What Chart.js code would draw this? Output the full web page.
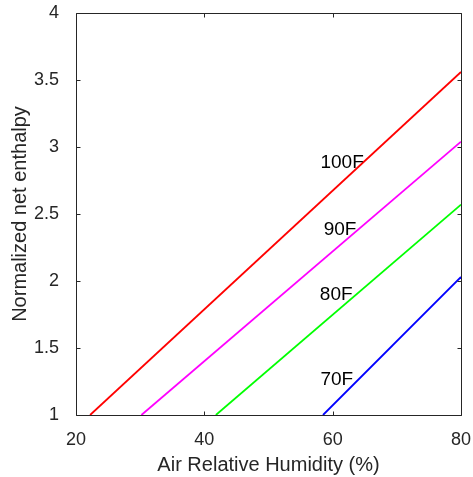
<!DOCTYPE html>
<html>
<head>
<meta charset="utf-8">
<script src="https://cdn.jsdelivr.net/npm/chart.js@4/dist/chart.umd.min.js"></script>
<style>
  html, body { margin: 0; padding: 0; background: #ffffff; }
  #wrap { width: 473px; height: 477px; position: relative; }
</style>
</head>
<body>
<div id="wrap"><canvas id="c"></canvas></div>
<script>
// ---- data ----
const seriesNames = ['100F', '90F', '80F', '70F'];
const seriesColors = ['#ff0000', '#ff00ff', '#00ff00', '#0000ff'];
const humidity100 = [22.2, 80];
const enthalpy100 = [1.0, 3.56];
const humidity90 = [30.2, 80];
const enthalpy90 = [1.0, 3.04];
const humidity80 = [41.8, 80];
const enthalpy80 = [1.0, 2.57];
const humidity70 = [58.5, 80];
const enthalpy70 = [1.0, 2.03];
// text annotation anchors (data coordinates)
const labelX = [58.1, 58.6, 58.0, 58.1];
const labelY = [2.88, 2.385, 1.896, 1.265];
const xTicks = [20, 40, 60, 80];
const yTicks = [1, 1.5, 2, 2.5, 3, 3.5, 4];
const yTickLabels = ['1', '1.5', '2', '2.5', '3', '3.5', '4'];
const xTickLabels = ['20', '40', '60', '80'];

const hs = [humidity100, humidity90, humidity80, humidity70];
const es = [enthalpy100, enthalpy90, enthalpy80, enthalpy70];

const datasets = seriesNames.map((n, i) => ({
  label: n,
  data: hs[i].map((x, k) => ({ x: x, y: es[i][k] })),
  borderColor: seriesColors[i],
  backgroundColor: seriesColors[i],
  borderWidth: 1.8,
  pointRadius: 0,
  fill: false,
  tension: 0
}));

const frameColor = '#262626';
const fontFam = '"Liberation Sans", Arial, Helvetica, sans-serif';

const framePlugin = {
  id: 'frame',
  afterDatasetsDraw(chart) {
    const ctx = chart.ctx;
    const a = chart.chartArea;
    const xs = chart.scales.x, ys = chart.scales.y;
    ctx.save();
    ctx.strokeStyle = frameColor;
    ctx.lineWidth = 1;
    const L = Math.round(a.left) + 0.5, R = Math.round(a.right) + 0.5;
    const T = Math.round(a.top) + 0.5, B = Math.round(a.bottom) + 0.5;
    ctx.beginPath();
    ctx.rect(L, T, R - L, B - T);
    const tl = 4;
    xTicks.forEach(v => {
      const px = Math.round(xs.getPixelForValue(v)) + 0.5;
      ctx.moveTo(px, B); ctx.lineTo(px, B - tl);
      ctx.moveTo(px, T); ctx.lineTo(px, T + tl);
    });
    yTicks.forEach(v => {
      const py = Math.round(ys.getPixelForValue(v)) + 0.5;
      ctx.moveTo(L, py); ctx.lineTo(L + tl, py);
      ctx.moveTo(R, py); ctx.lineTo(R - tl, py);
    });
    ctx.stroke();
    // annotations
    ctx.fillStyle = '#000000';
    ctx.font = '19px ' + fontFam;
    ctx.textAlign = 'left';
    ctx.textBaseline = 'middle';
    seriesNames.forEach((n, i) => {
      ctx.fillText(n, xs.getPixelForValue(labelX[i]), ys.getPixelForValue(labelY[i]));
    });
    ctx.restore();
  }
};

function zeroPad(s) { s.paddingLeft = 0; s.paddingRight = 0; s.paddingTop = 0; s.paddingBottom = 0; }

new Chart(document.getElementById('c'), {
  type: 'line',
  data: { datasets: datasets },
  options: {
    responsive: true,
    maintainAspectRatio: false,
    animation: false,
    devicePixelRatio: 1,
    layout: { padding: { top: 13, right: 12, left: 0, bottom: 0 } },
    plugins: { legend: { display: false }, tooltip: { enabled: false } },
    scales: {
      x: {
        type: 'linear',
        min: 20, max: 80,
        afterBuildTicks: s => { s.ticks = xTicks.map(v => ({ value: v })); },
        afterFit: s => { s.height = 62; zeroPad(s); },
        grid: { display: false },
        border: { display: false },
        ticks: {
          color: frameColor, font: { family: fontFam, size: 18 }, padding: 6, maxRotation: 0, autoSkip: false,
          callback: (v) => { const i = xTicks.indexOf(v); return i >= 0 ? xTickLabels[i] : ''; }
        },
        title: { display: true, text: 'Air Relative Humidity (%)', color: frameColor, font: { family: fontFam, size: 20 }, padding: { top: 0, bottom: 0 } }
      },
      y: {
        type: 'linear',
        min: 1, max: 4,
        afterBuildTicks: s => { s.ticks = yTicks.map(v => ({ value: v })); },
        afterFit: s => { s.width = 76; zeroPad(s); },
        grid: { display: false },
        border: { display: false },
        ticks: {
          color: frameColor, font: { family: fontFam, size: 18 }, padding: 9, autoSkip: false,
          callback: (v) => { const i = yTicks.indexOf(v); return i >= 0 ? yTickLabels[i] : ''; }
        },
        title: { display: true, text: 'Normalized net enthalpy', color: frameColor, font: { family: fontFam, size: 20 }, padding: { top: 8, bottom: 0 } }
      }
    }
  },
  plugins: [framePlugin]
});
</script>
</body>
</html>
